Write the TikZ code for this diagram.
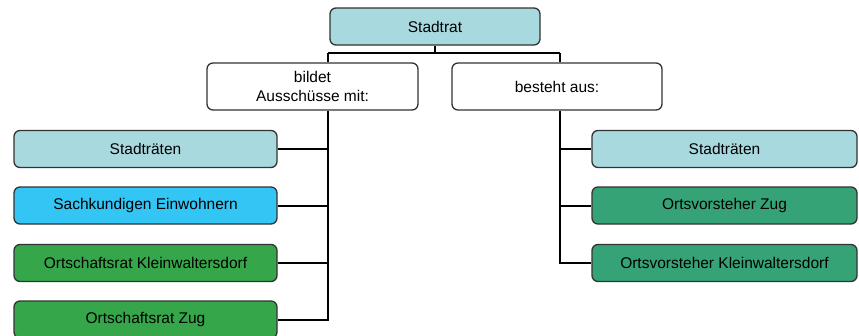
\documentclass[tikz,border=0pt]{standalone}
\usepackage{fontspec}
\setmainfont{Liberation Sans}
\usepackage{tikz}
\usetikzlibrary{calc,positioning}
\definecolor{lightblue}{HTML}{A8D9DF}
\definecolor{skyblue}{HTML}{33C5F3}
\definecolor{leafgreen}{HTML}{35A64A}
\definecolor{seagreen}{HTML}{36A376}
\definecolor{framegray}{HTML}{333333}

\tikzset{
  orgbox/.style={draw=framegray, line width=1.3pt, rounded corners=6pt,
    minimum width=263pt, minimum height=37pt, align=center,
    font=\fontsize{15.5}{19}\selectfont, inner sep=0pt},
  linkline/.style={line width=2pt, black}
}

\begin{document}
\begin{tikzpicture}[x=1pt,y=-1pt]
  \useasboundingbox (0,0) rectangle (859,335);

  % top level
  \node [orgbox, fill=lightblue, minimum width=210pt] (rat) at (435,26.5) {Stadtrat};
  \node [orgbox, fill=white, minimum width=211pt, minimum height=47pt] (aussch) at (312.5,86.5) {bildet\\Ausschüsse mit:};
  \node [orgbox, fill=white, minimum width=210pt, minimum height=47pt] (besteht) at (557,86.5) {besteht aus:};

  % left column
  \node [orgbox, fill=lightblue] (lstadt) at (145.5,149) {Stadträten};
  \node [orgbox, fill=skyblue] (sach) at (145.5,205.5) {Sachkundigen Einwohnern};
  \node [orgbox, fill=leafgreen] (klein) at (145.5,263) {Ortschaftsrat Kleinwaltersdorf};
  \node [orgbox, fill=leafgreen] (zug) at (145.5,319.5) {Ortschaftsrat Zug};

  % right column
  \node [orgbox, fill=lightblue, minimum width=265pt] (rstadt) at (724.5,149) {Stadträten};
  \node [orgbox, fill=seagreen, minimum width=265pt] (vzug) at (724.5,205.5) {Ortsvorsteher Zug};
  \node [orgbox, fill=seagreen, minimum width=265pt] (vklein) at (724.5,263) {Ortsvorsteher Kleinwaltersdorf};

  \coordinate (split) at (435,53);
  \coordinate (lbus) at (328,53);
  \coordinate (rbus) at (560,53);

  \draw [linkline] (rat.south) -- (split);
  \draw [linkline] (lbus) -- (rbus);
  \draw [linkline] (lbus) -- (lbus |- aussch.north);
  \draw [linkline] (rbus) -- (rbus |- besteht.north);

  \draw [linkline] (lbus |- aussch.south) |- (zug.east);
  \foreach \n in {lstadt,sach,klein}
    \draw [linkline] (\n.east) -- (lbus |- \n.east);

  \draw [linkline] (rbus |- besteht.south) |- (vklein.west);
  \foreach \n in {rstadt,vzug}
    \draw [linkline] (\n.west) -- (rbus |- \n.west);
\end{tikzpicture}
\end{document}
